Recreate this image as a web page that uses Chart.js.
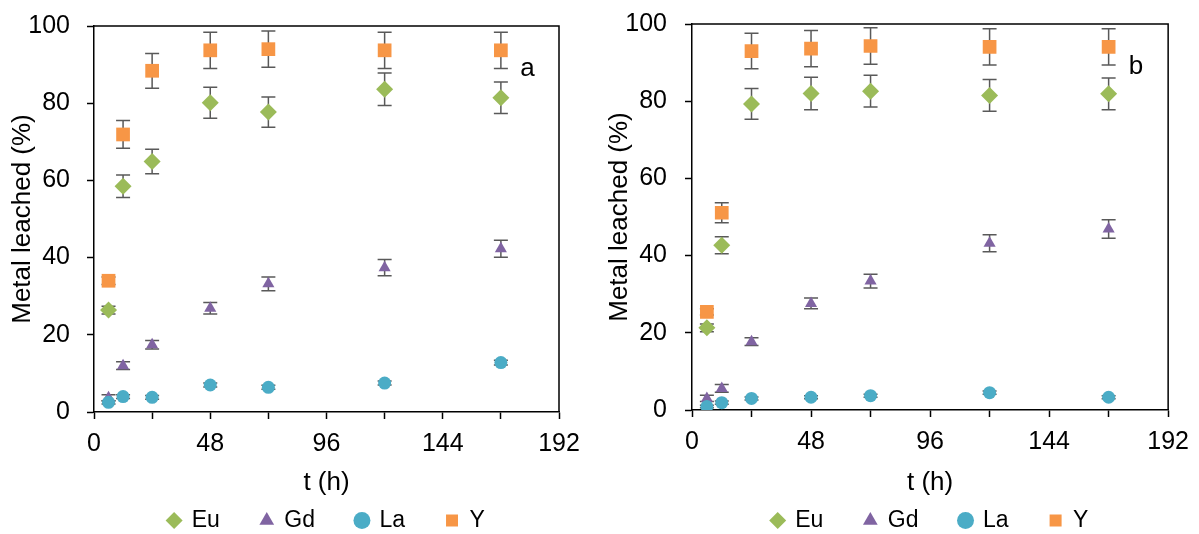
<!DOCTYPE html>
<html>
<head>
<meta charset="utf-8">
<script src="https://cdn.jsdelivr.net/npm/chart.js@4.4.1/dist/chart.umd.min.js"></script>
<style>
  body { margin: 0; background: #fff; }
  #wrap { position: relative; width: 1199px; height: 534px; overflow: hidden; }
  canvas { position: absolute; top: 0; }
</style>
</head>
<body>
<div id="wrap">
  <canvas id="chartA" width="595" height="534" style="left:0"></canvas>
  <canvas id="chartB" width="599" height="534" style="left:600px"></canvas>
</div>
<script>
// sampling times (h)
const hours = [6, 12, 24, 48, 72, 120, 168];
const seriesNames = ['Eu', 'Gd', 'La', 'Y'];

// panel a
const euA = [26.4, 58.5, 64.9, 80.1, 77.7, 83.6, 81.4];
const euAErr = [1.0, 2.9, 3.2, 4.0, 3.9, 4.2, 4.1];
const gdA = [3.7, 12.0, 17.4, 26.9, 33.2, 37.4, 42.3];
const gdAErr = [0.8, 1.0, 1.1, 1.5, 1.8, 2.1, 2.2];
const laA = [2.5, 4.0, 3.8, 7.0, 6.4, 7.5, 12.8];
const laAErr = [0.4, 0.5, 0.5, 0.5, 0.5, 0.5, 0.6];
const yA = [34.0, 71.9, 88.4, 93.7, 94.0, 93.7, 93.7];
const yAErr = [1.0, 3.6, 4.5, 4.7, 4.7, 4.7, 4.7];

// panel b
const euB = [21.3, 42.7, 79.3, 82.0, 82.6, 81.5, 81.9];
const euBErr = [1.0, 2.2, 4.0, 4.2, 4.1, 4.1, 4.1];
const gdB = [3.0, 5.6, 17.7, 27.6, 33.4, 43.2, 46.9];
const gdBErr = [0.8, 1.0, 1.0, 1.4, 1.8, 2.2, 2.4];
const laB = [0.9, 1.9, 3.0, 3.3, 3.7, 4.5, 3.3];
const laBErr = [0.3, 0.4, 0.4, 0.4, 0.4, 0.4, 0.4];
const yB = [25.4, 51.1, 93.0, 93.6, 94.3, 94.1, 94.1];
const yBErr = [0.8, 2.6, 4.6, 4.7, 4.7, 4.7, 4.7];

const colors = ['#9BBB59', '#8064A2', '#4BACC6', '#F79646'];
const styles = ['rectRot', 'triangle', 'circle', 'rect'];
const radii = [8.5, 7, 6.5, 9.7];

Chart.defaults.font.family = '"Liberation Sans", Arial, sans-serif';
Chart.defaults.color = '#000';

// error bars, drawn under the markers
const errorBars = {
    id: 'errorBars',
    beforeDatasetsDraw(chart) {
        const ctx = chart.ctx;
        const yScale = chart.scales.y;
        ctx.save();
        ctx.strokeStyle = '#595959';
        ctx.lineWidth = 1.5;
        chart.data.datasets.forEach((ds, i) => {
            const meta = chart.getDatasetMeta(i);
            meta.data.forEach((pt, j) => {
                const v = ds.data[j].y, e = ds.errors[j];
                const top = yScale.getPixelForValue(v + e);
                const bot = yScale.getPixelForValue(v - e);
                ctx.beginPath();
                ctx.moveTo(pt.x, top); ctx.lineTo(pt.x, bot);
                ctx.moveTo(pt.x - 7, top); ctx.lineTo(pt.x + 7, top);
                ctx.moveTo(pt.x - 7, bot); ctx.lineTo(pt.x + 7, bot);
                ctx.stroke();
            });
        });
        ctx.restore();
    }
};

// top and right sides of the plot box + panel letter
const frameAndLabel = {
    id: 'frameAndLabel',
    afterDraw(chart, args, opts) {
        const { ctx, chartArea: a, scales } = chart;
        ctx.save();
        ctx.strokeStyle = '#000';
        ctx.lineWidth = 1.5;
        ctx.beginPath();
        ctx.moveTo(a.left, a.top); ctx.lineTo(a.right, a.top); ctx.lineTo(a.right, a.bottom);
        ctx.stroke();
        ctx.fillStyle = '#000';
        ctx.font = '26px "Liberation Sans", Arial, sans-serif';
        ctx.textAlign = 'center';
        ctx.textBaseline = 'middle';
        ctx.fillText(opts.text, scales.x.getPixelForValue(opts.x), scales.y.getPixelForValue(opts.y));
        ctx.restore();
    }
};

function makeChart(id, values, errors, letter, lay) {
    const datasets = seriesNames.map((name, k) => ({
        label: name,
        data: hours.map((h, j) => ({ x: h, y: values[k][j] })),
        errors: errors[k],
        pointStyle: styles[k],
        pointRadius: radii[k],
        backgroundColor: colors[k],
        borderColor: colors[k],
        borderWidth: 0,
        showLine: false,
        order: 4 - k   // later series on top, like the original
    }));

    return new Chart(document.getElementById(id), {
        type: 'scatter',
        data: { datasets: datasets },
        plugins: [errorBars, frameAndLabel],
        options: {
            responsive: false,
            animation: false,
            events: [],
            layout: { padding: { left: 0, right: lay.padRight, top: lay.padTop, bottom: 0 } },
            plugins: {
                tooltip: { enabled: false },
                frameAndLabel: { text: letter, x: 179, y: 89 },
                legend: {
                    position: 'bottom',
                    fullSize: false,
                    maxHeight: 66,
                    labels: {
                        usePointStyle: true,
                        boxWidth: 12,
                        boxHeight: 12,
                        padding: 41,
                        color: '#000',
                        font: { size: 23 },
                        sort: (a, b) => a.datasetIndex - b.datasetIndex
                    }
                }
            },
            scales: {
                x: {
                    type: 'linear',
                    min: 0,
                    max: 192,
                    afterFit: (s) => { s.height = lay.xHeight; },
                    ticks: {
                        stepSize: 24,
                        autoSkip: false,
                        maxRotation: 0,
                        padding: 10,
                        font: { size: 25 },
                        callback: (v) => (v % 48 === 0 ? v : '')
                    },
                    grid: { drawOnChartArea: false, tickLength: 7, color: '#000', tickWidth: 1.5 },
                    border: { color: '#000', width: 1.5 },
                    title: { display: true, text: 't (h)', font: { size: 26 }, padding: { top: 0, bottom: -30 } }
                },
                y: {
                    min: 0,
                    max: 100,
                    afterFit: (s) => { s.width = lay.yWidth; s.paddingTop = 0; s.paddingBottom = 0; },
                    ticks: { stepSize: 20, padding: lay.yTickPad, font: { size: 25 } },
                    grid: { drawOnChartArea: false, tickLength: 7, color: '#000', tickWidth: 1.5 },
                    border: { color: '#000', width: 1.5 },
                    title: { display: true, text: 'Metal leached (%)', font: { size: 26 }, padding: { top: lay.yTitlePad, bottom: 0 } }
                }
            }
        }
    });
}

makeChart('chartA', [euA, gdA, laA, yA], [euAErr, gdAErr, laAErr, yAErr], 'a',
    { yWidth: 94, padRight: 36, padTop: 26, xHeight: 56, yTickPad: 17, yTitlePad: 7 });
makeChart('chartB', [euB, gdB, laB, yB], [euBErr, gdBErr, laBErr, yBErr], 'b',
    { yWidth: 92, padRight: 26, padTop: 24, xHeight: 58, yTickPad: 18, yTitlePad: 4 });
</script>
</body>
</html>
